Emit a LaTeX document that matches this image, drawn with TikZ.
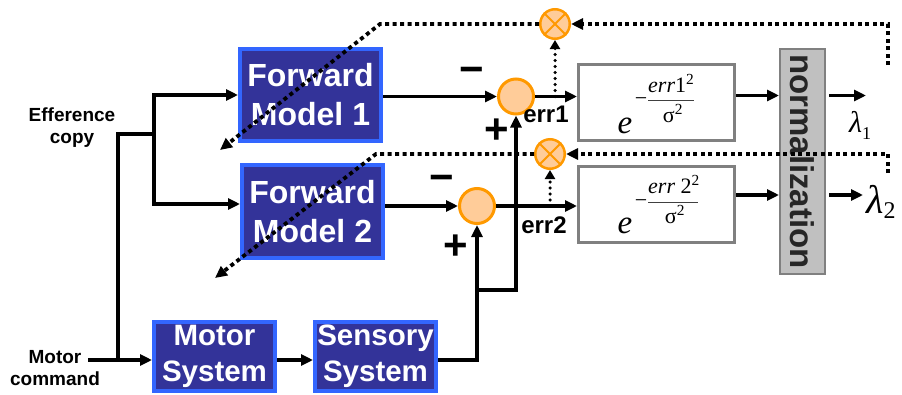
\documentclass[tikz,border=0pt]{standalone}
\usepackage{fontspec}
\setmainfont{Liberation Sans}
\newfontfamily\serifrm{Liberation Serif}
\usetikzlibrary{arrows.meta}
\definecolor{fmfill}{HTML}{333399}
\definecolor{fmedge}{HTML}{3366FF}
\definecolor{sumfill}{HTML}{FFCC99}
\definecolor{sumedge}{HTML}{FF9900}
\definecolor{expedge}{HTML}{808080}
\definecolor{normfill}{HTML}{C0C0C0}
\begin{document}
\begin{tikzpicture}[x=1pt,y=-1pt,
  line/.style={line width=3.5pt},
  arr/.style={line width=3.5pt,-{Triangle[length=12pt,width=11pt]}},
  fmbox/.style={draw=fmedge,fill=fmfill,line width=4pt,text=white,font=\fontsize{32}{39}\selectfont\bfseries,align=center,inner sep=0pt},
  sumc/.style={circle,draw=sumedge,fill=sumfill,line width=3pt,minimum size=35pt,inner sep=0pt},
  mulc/.style={circle,draw=sumedge,fill=sumfill,line width=2.5pt,minimum size=29.5pt,inner sep=0pt},
  mulx/.style={draw=sumedge,line width=2pt},
  expbox/.style={draw=expedge,fill=white,line width=3pt,minimum width=156pt,minimum height=76pt,inner sep=0pt},
  normbox/.style={draw=expedge,fill=normfill,line width=2pt,minimum width=45pt,minimum height=225pt,inner sep=0pt},
  dotline/.style={line width=3.8pt,dash pattern=on 4pt off 3.5pt,-{Triangle[length=12pt,width=11pt]}},
  smalldot/.style={line width=3.5pt,dash pattern=on 0pt off 6pt,line cap=round,-{Triangle[length=9pt,width=10pt]}},
  expe/.style={font=\serifrm\itshape\fontsize{33}{33}\selectfont,inner sep=0pt},
  expf/.style={font=\serifrm\fontsize{22}{22}\selectfont,inner sep=0pt},
  fracbar/.style={line width=1pt,black!75},
  pm/.style={font=\fontsize{42}{42}\selectfont\bfseries,inner sep=0pt},
  errl/.style={font=\fontsize{24}{24}\selectfont\bfseries,inner sep=0pt},
  lab/.style={font=\fontsize{19}{22}\selectfont\bfseries,align=center,inner sep=0pt},
  lam/.style={font=\serifrm\itshape,inner sep=0pt}
]
\useasboundingbox (0,0) rectangle (902,394);

% blocks
\node[fmbox,minimum width=141pt,minimum height=92pt] (fm1) at (310.5,95) {Forward\\Model 1};
\node[fmbox,minimum width=141pt,minimum height=93pt] (fm2) at (312.5,211.5) {Forward\\Model 2};
\node[fmbox,font=\fontsize{29.5}{36}\selectfont\bfseries,minimum width=121pt,minimum height=69pt] (ms) at (214.5,356.5) {Motor\\System};
\node[fmbox,font=\fontsize{29.5}{36}\selectfont\bfseries,minimum width=121pt,minimum height=69pt] (ss) at (375.5,356.5) {Sensory\\System};

\node[sumc] (s1) at (516,96.5) {};
\node[sumc] (s2) at (477,206) {};
\node[mulc] (m1) at (555,24) {};
\node[mulc] (m2) at (550,154) {};
\draw[mulx] (m1.north west) -- (m1.south east) (m1.north east) -- (m1.south west);
\draw[mulx] (m2.north west) -- (m2.south east) (m2.north east) -- (m2.south west);

\node[expbox] (e1) at (656.5,102.5) {};
\node[expbox] (e2) at (656.5,204) {};
\node[normbox] (norm) at (802.5,161.5) {};
\node[font=\fontsize{33}{33}\selectfont\bfseries,rotate=-90,text=black!85,inner sep=0pt] (normt) at (norm.center) {normalization};

% formulas
\node[expe,anchor=base] (ee1) at (625,133) {e};
\node[expf,anchor=base] (mn1) at (641,105) {−};
\node[expf,anchor=base west] (nu1) at (648,92) {\itshape err\upshape 1\textsuperscript{2}};
\draw[fracbar] (648,100) -- (694,100);
\node[expf,anchor=base] (de1) at (673,122) {σ\textsuperscript{2}};

\node[expe,anchor=base] (ee2) at (625,233) {e};
\node[expf,anchor=base] (mn2) at (641,207) {−};
\node[expf,anchor=base west] (nu2) at (648,193) {\itshape err\upshape\ 2\textsuperscript{2}};
\draw[fracbar] (648,202) -- (698,202);
\node[expf,anchor=base] (de2) at (675,223) {σ\textsuperscript{2}};

% labels
\node[lab] (eff) at (72,128) {Efference\\copy};
\node[lab] (mcl) at (55,368) {Motor\\command};
\node[pm] (mi1) at (472,75) {−};
\node[pm] (pl1) at (497,131) {+};
\node[pm] (mi2) at (442,183) {−};
\node[pm] (pl2) at (456,247) {+};
\node[errl] (er1) at (546,114) {err1};
\node[errl] (er2) at (544,225) {err2};
\node[lam,anchor=base west] (lam1) at (849,132) {\fontsize{30}{30}\selectfont λ\raisebox{-7pt}{\fontsize{18}{18}\selectfont\upshape 1}};
\node[lam,anchor=base west] (lam2) at (866,213) {\fontsize{40}{40}\selectfont λ\raisebox{-5pt}{\fontsize{24}{24}\selectfont\upshape 2}};

% coordinates
\coordinate (mc) at (88,360);
\coordinate (j1) at (118,360);
\coordinate (j2) at (118,134);
\coordinate (j3) at (154,134);
\coordinate (j5) at (154,204);
\coordinate (k1) at (477,360);
\coordinate (k2) at (477,290);
\coordinate (k3) at (516,290);
\coordinate (r1) at (760,95.5);
\coordinate (r2) at (760,195);
\coordinate (o1) at (866,95.5);
\coordinate (o2) at (863,195);

% solid connectors
\draw[arr] (mc) -- (mc -| ms.west);
\draw[line] (j1) -- (j2) -- (j3);
\draw[arr] (j3) |- (fm1.west);
\draw[arr] (j3) |- (fm2.west |- j5);
\draw[arr] (ms.east |- mc) -- (ss.west |- mc);
\draw[arr] (ss.east |- mc) -- (k1) -- (s2.south);
\draw[arr] (k2) -- (k3) -- (s1.south);
\draw[arr] (fm1.east |- s1) -- (s1.west);
\draw[arr] (fm2.east |- s2) -- (s2.west);
\draw[arr] (s1.east) -- (s1.east -| e1.west);
\draw[arr] (s2.east) -- (s2.east -| e2.west);
\draw[arr] (e1.east |- r1) -- (norm.west |- r1);
\draw[arr] (e2.east |- r2) -- (norm.west |- r2);
\draw[arr] ([xshift=3pt]norm.east |- r1) -- (o1);
\draw[arr] ([xshift=3pt]norm.east |- r2) -- (o2);

% dotted feedback
\coordinate (t1) at (888,65);
\coordinate (t2) at (888,24);
\coordinate (t3) at (380,24);
\coordinate (t4) at (220,150);
\coordinate (u1) at (888,173);
\coordinate (u2) at (888,154);
\coordinate (u3) at (376,154);
\coordinate (u4) at (215,278);
\draw[dotline] (t1) -- (t2) -- (m1.east);
\draw[dotline] (m1.west) -- (t3) -- (t4);
\draw[dotline] (u1) -- (u2) -- (m2.east);
\draw[dotline] (m2.west) -- (u3) -- (u4);
\draw[smalldot] (m1 |- s1) -- (m1.south);
\draw[smalldot] (m2 |- s2) -- (m2.south);
\end{tikzpicture}
\end{document}
